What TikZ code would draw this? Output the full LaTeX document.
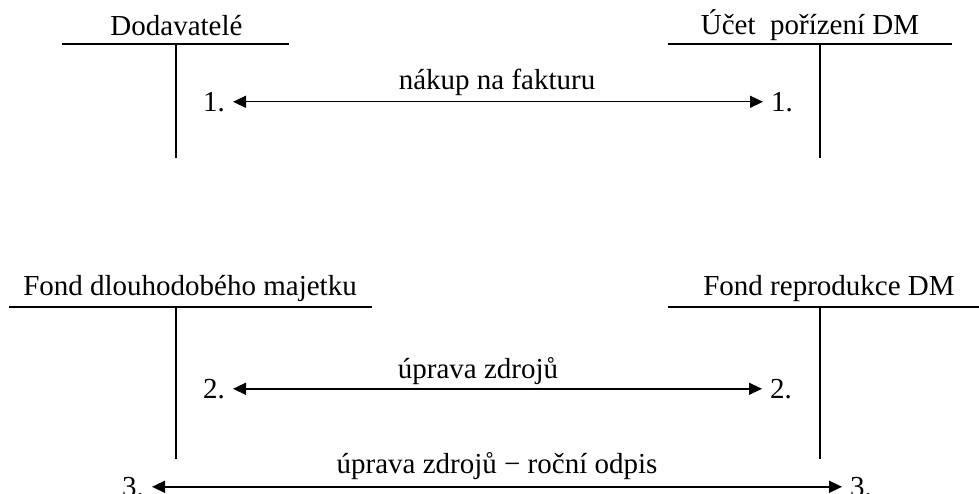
\documentclass[tikz,border=0pt]{standalone}
\usepackage{fontspec}
\setmainfont{Liberation Serif}
\usetikzlibrary{arrows.meta}
\begin{document}
\begin{tikzpicture}[x=1pt,y=-1pt,
  every node/.style={font=\fontsize{29}{34}\selectfont, inner sep=0pt},
  tline/.style={line width=1.6pt},
  flow/.style={line width=1.4pt, shorten <=8pt, shorten >=8pt,
    {Triangle[length=13pt,width=12pt]}-{Triangle[length=13pt,width=12pt]}},
  num/.style={text height=20pt, text depth=0pt},
  ttl/.style={anchor=base},
  lbl/.style={anchor=base}]
\clip (0,0) rectangle (979,494);
\useasboundingbox (0,0) rectangle (979,494);
% account titles
\node[ttl] (dod) at (176.5,36) {Dodavatelé};
\node[ttl] (uc) at (810,35) {Účet\ \ pořízení DM};
\node[ttl] (fdm) at (190,295) {Fond dlouhodobého majetku};
\node[ttl] (frd) at (829,295) {Fond reprodukce DM};
% T-account lines
\coordinate (dodL) at (62,44);   \coordinate (dodR) at (289,44);
\coordinate (dodT) at (176,44);  \coordinate (dodB) at (176,158);
\coordinate (ucL) at (668,44);   \coordinate (ucR) at (952,44);
\coordinate (ucT) at (820,44);   \coordinate (ucB) at (820,158);
\coordinate (fdmL) at (9,307);   \coordinate (fdmR) at (372,307);
\coordinate (fdmT) at (176,307); \coordinate (fdmB) at (176,459);
\coordinate (frdL) at (668,307); \coordinate (frdR) at (979,307);
\coordinate (frdT) at (820,307); \coordinate (frdB) at (820,459);
\draw[tline] (dodL) -- (dodR) (dodT) -- (dodB);
\draw[tline] (ucL) -- (ucR) (ucT) -- (ucB);
\draw[tline] (fdmL) -- (fdmR) (fdmT) -- (fdmB);
\draw[tline] (frdL) -- (frdR) (frdT) -- (frdB);
% entry numbers
\node[num, anchor=south east] (l1) at (225,112) {1.};
\node[num, anchor=south west] (r1) at (771,112) {1.};
\node[num, anchor=south east] (l2) at (225,399) {2.};
\node[num, anchor=south west] (r2) at (770,399) {2.};
\node[num, anchor=south east] (l3) at (144,497) {3.};
\node[num, anchor=south west] (r3) at (850,497) {3.};
% flows
\draw[flow] (l1.east) -- (r1.west);
\draw[flow] (l2.east) -- (r2.west);
\draw[flow] (l3.east) -- (r3.west);
% flow labels
\node[lbl] (t1) at (497,90) {nákup na fakturu};
\node[lbl] (t2) at (478,378) {úprava zdrojů};
\node[lbl] (t3) at (497,473) {úprava zdrojů − roční odpis};
\end{tikzpicture}
\end{document}
